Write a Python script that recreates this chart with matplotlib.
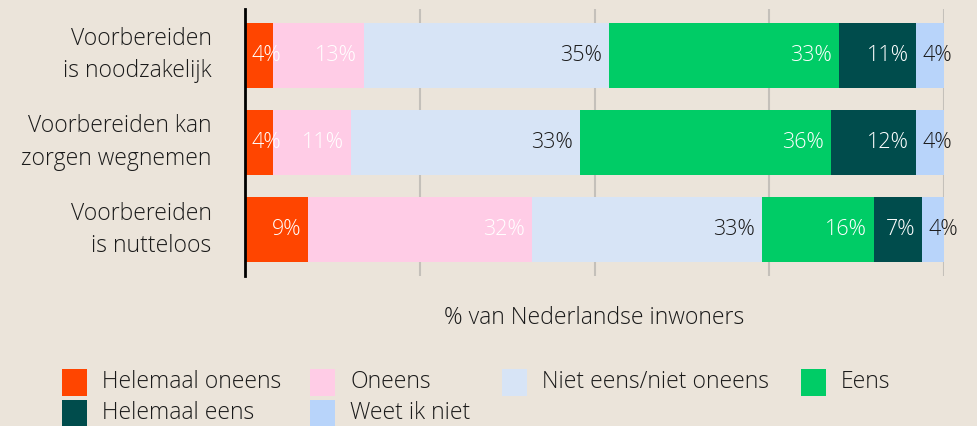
import matplotlib
matplotlib.use("Agg")
import matplotlib.pyplot as plt
from matplotlib.patches import Rectangle

categories = ["Voorbereiden\nis noodzakelijk", "Voorbereiden kan\nzorgen wegnemen", "Voorbereiden\nis nutteloos"]
series = ["Helemaal oneens", "Oneens", "Niet eens/niet oneens", "Eens", "Helemaal eens", "Weet ik niet"]
values = [
    [4.0, 4.0, 9.0],
    [13.0, 11.2, 32.0],
    [35.1, 32.7, 33.0],
    [32.9, 35.9, 16.0],
    [11.0, 12.2, 6.9],
    [4.0, 4.0, 3.1],
]
labels = [
    ["4%", "4%", "9%"],
    ["13%", "11%", "32%"],
    ["35%", "33%", "33%"],
    ["33%", "36%", "16%"],
    ["11%", "12%", "7%"],
    ["4%", "4%", "4%"],
]
colors = ["#ff4500", "#ffcce6", "#d7e4f6", "#00cc66", "#004c4c", "#b8d4fa"]
label_colors = ["white", "white", "#1a1a1a", "white", "white", "#1a1a1a"]
xlabel = "% van Nederlandse inwoners"

BG = "#ebe4da"
FONT = ["Open Sans", "DejaVu Sans"]
plt.rcParams["font.family"] = FONT
plt.rcParams["font.weight"] = 300
TXT = "#1a1a1a"

fig = plt.figure(figsize=(9.77, 4.26), dpi=100, facecolor=BG)
ax = fig.add_axes([245/977, 150/426, 699/977, 267/426])
ax.set_facecolor(BG)

ypos = list(range(len(categories)))
left = [0.0] * len(categories)
for s, name in enumerate(series):
    ax.barh(ypos, values[s], left=left, height=0.74, color=colors[s], zorder=3)
    for i in ypos:
        w = values[s][i]
        if w < 6:
            ax.text(left[i] + 0.9, i, labels[s][i], ha="left", va="center",
                    fontsize=15.5, color=label_colors[s], zorder=4)
        else:
            ax.text(left[i] + w - 1.0, i, labels[s][i], ha="right", va="center",
                    fontsize=15.5, color=label_colors[s], zorder=4)
        left[i] += w

ax.set_xlim(0, 100)
ax.set_ylim(2.53, -0.53)
ax.set_xticks([25, 50, 75, 100])
ax.set_xticklabels([])
ax.tick_params(axis="x", length=0)
ax.grid(axis="x", color="#c4c0ba", linewidth=1.5, zorder=0)
ax.set_yticks(ypos)
ax.set_yticklabels(categories, fontsize=16.5, color=TXT, linespacing=1.45)
for lab in ax.get_yticklabels():
    lab.set_va("center")
ax.tick_params(axis="y", length=0, pad=24)
for sp in ["top", "right", "bottom"]:
    ax.spines[sp].set_visible(False)
ax.spines["left"].set_color("black")
ax.spines["left"].set_linewidth(2)
ax.spines["left"].set_zorder(5)

fig.text(594/977, 1 - 318/426, xlabel, ha="center", va="center", fontsize=16.6, color=TXT)

# legend
col_x = [62, 310, 502, 801]
row_y = [382, 413]
for k, name in enumerate(series):
    r, c = divmod(k, 4)
    x = col_x[c]
    yc = row_y[r]
    fig.patches.append(Rectangle((x/977, 1 - (yc + 13.5)/426), 25/977, 27/426,
                                 transform=fig.transFigure, facecolor=colors[k],
                                 edgecolor="none"))
    fig.text((x + 40)/977, 1 - yc/426, name, ha="left", va="center",
             fontsize=16.5, color=TXT)

fig.savefig("out.png", dpi=100, facecolor=BG)
